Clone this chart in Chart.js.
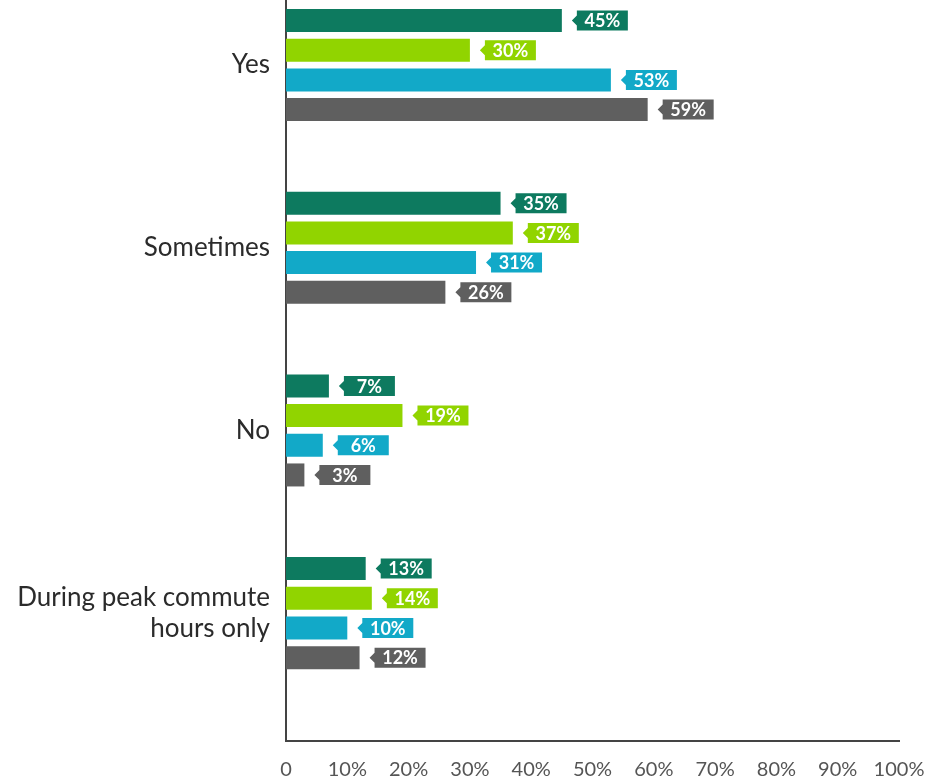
<!DOCTYPE html>
<html>
<head>
<meta charset="utf-8">
<script src="https://cdn.jsdelivr.net/npm/chart.js@4"></script>
<style>
  html, body { margin: 0; padding: 0; background: #fff; }
  #wrap { width: 937px; height: 782px; }
</style>
</head>
<body>
<div id="wrap"><canvas id="answerChart" width="937" height="782"></canvas></div>
<script>
// categories (top to bottom)
const categories = ['Yes', 'Sometimes', 'No', ['During peak commute', 'hours only']];

// one array per coloured series, values in % for each category
const seriesDarkGreen = [45, 35, 7, 13];
const seriesLime      = [30, 37, 19, 14];
const seriesCyan      = [53, 31, 6, 10];
const seriesGray      = [59, 26, 3, 12];

const xTicks = [0, 10, 20, 30, 40, 50, 60, 70, 80, 90, 100];

const colors = ['#0d7a5f', '#91d400', '#12a9c8', '#5f5f5f'];

function toPoints(arr) {
    return arr.map(function (v, i) { return { x: v, y: i }; });
}

// callout label with small arrow pointing back to the bar
const calloutPlugin = {
    id: 'callouts',
    afterDatasetsDraw(chart) {
        const ctx = chart.ctx;
        ctx.save();
        chart.data.datasets.forEach(function (ds, di) {
            const meta = chart.getDatasetMeta(di);
            meta.data.forEach(function (bar, i) {
                const x = bar.x + 10;
                const y = bar.y;
                const h = 10, w = 51;
                ctx.fillStyle = ds.backgroundColor;
                ctx.beginPath();
                ctx.moveTo(x, y);
                ctx.lineTo(x + 5, y - 5);
                ctx.lineTo(x + 5, y - h);
                ctx.lineTo(x + 5 + w, y - h);
                ctx.lineTo(x + 5 + w, y + h);
                ctx.lineTo(x + 5, y + h);
                ctx.lineTo(x + 5, y + 5);
                ctx.closePath();
                ctx.fill();
                ctx.fillStyle = '#ffffff';
                ctx.font = 'bold 18px Lato';
                ctx.textAlign = 'center';
                ctx.textBaseline = 'middle';
                ctx.fillText(ds.data[i].x + '%', x + 5 + w / 2, y + 1);
            });
        });
        ctx.restore();
    }
};

const ctx = document.getElementById('answerChart').getContext('2d');
const answerChart = new Chart(ctx, {
    type: 'bar',
    data: {
        datasets: [
            { label: 'Series 1', data: toPoints(seriesDarkGreen), backgroundColor: colors[0] },
            { label: 'Series 2', data: toPoints(seriesLime), backgroundColor: colors[1] },
            { label: 'Series 3', data: toPoints(seriesCyan), backgroundColor: colors[2] },
            { label: 'Series 4', data: toPoints(seriesGray), backgroundColor: colors[3] }
        ]
    },
    options: {
        responsive: false,
        animation: false,
        indexAxis: 'y',
        categoryPercentage: 0.65,
        barPercentage: 0.775,
        layout: { padding: { top: 0, right: 38, left: 0, bottom: 0 } },
        plugins: {
            legend: { display: false },
            tooltip: { enabled: false }
        },
        scales: {
            x: {
                type: 'linear',
                min: 0,
                max: 100,
                afterBuildTicks: function (scale) {
                    scale.ticks = xTicks.map(function (v) { return { value: v }; });
                },
                afterFit: function (scale) {
                    scale.height = 41;
                    scale.paddingLeft = 0;
                    scale.paddingRight = 0;
                },
                grid: { display: false, drawTicks: false },
                border: { display: true, color: '#444', width: 2 },
                ticks: {
                    padding: 17,
                    color: '#555',
                    font: { family: 'Lato', size: 20 },
                    maxRotation: 0,
                    callback: function (v) { return v === 0 ? '0' : v + '%'; }
                }
            },
            y: {
                type: 'linear',
                reverse: true,
                offset: false,
                bounds: 'data',
                min: -0.356,
                max: 3.70,
                afterBuildTicks: function (scale) {
                    scale.ticks = categories.map(function (c, i) { return { value: i }; });
                },
                afterFit: function (scale) {
                    scale.width = 286;
                    scale.paddingTop = 0;
                    scale.paddingBottom = 0;
                },
                grid: { display: false, drawTicks: false },
                border: { display: true, color: '#444', width: 2 },
                ticks: {
                    padding: 16,
                    color: '#2b2b2b',
                    font: { family: 'Lato', size: 26, lineHeight: 1.2 },
                    callback: function (v) { return categories[v]; }
                }
            }
        }
    },
    plugins: [calloutPlugin]
});
</script>
</body>
</html>
